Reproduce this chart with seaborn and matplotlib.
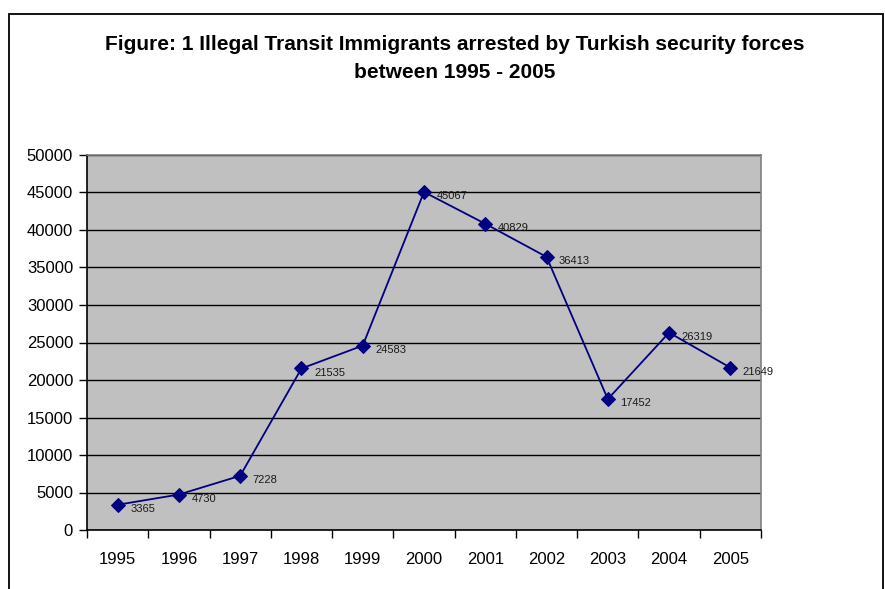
import pandas as pd
import seaborn as sns
from matplotlib import pyplot as plt
from matplotlib.patches import Rectangle
from matplotlib.ticker import FixedLocator, NullFormatter

years = ["1995", "1996", "1997", "1998", "1999", "2000", "2001", "2002", "2003", "2004", "2005"]
arrested = [3365, 4730, 7228, 21535, 24583, 45067, 40829, 36413, 17452, 26319, 21649]
y_ticks = [0, 5000, 10000, 15000, 20000, 25000, 30000, 35000, 40000, 45000, 50000]

W, H = 885, 589


def plot():
    df = pd.DataFrame({"Year": years, "Arrested": arrested})
    df["pos"] = range(len(df))

    sns.set_style("white")
    plt.rcParams["font.family"] = ["Liberation Sans", "DejaVu Sans"]
    plt.rcParams["text.color"] = "black"
    plt.rcParams["xtick.color"] = "black"
    plt.rcParams["ytick.color"] = "black"

    fig = plt.figure(figsize=(W / 100, H / 100), dpi=100)
    fig.add_artist(Rectangle((9 / W, -0.05), (883 - 9) / W, (H - 14) / H + 0.05,
                             transform=fig.transFigure, fill=False, lw=1.3, ec="black"))

    ax = fig.add_axes([87 / W, (H - 530) / H, 674 / W, 375 / H])
    ax.set_facecolor("#c0c0c0")

    sns.lineplot(data=df, x="pos", y="Arrested", color="#000080", lw=1.3,
                 marker="D", markersize=7, markeredgecolor="#000080", ax=ax, zorder=3)

    for _, row in df.iterrows():
        ax.annotate(str(row["Arrested"]), (row["pos"], row["Arrested"]), xytext=(9, -3),
                    textcoords="offset points", fontsize=8, va="center", ha="left",
                    color="#1a1a1a", annotation_clip=False, zorder=4)

    ax.set_xlim(-0.5, len(years) - 0.5)
    ax.set_ylim(0, 50000)
    ax.set_yticks(y_ticks)
    ax.set_yticklabels([str(v) for v in y_ticks], fontsize=12)
    ax.set_xticks(df["pos"])
    ax.set_xticklabels(years, fontsize=12)
    ax.xaxis.set_minor_locator(FixedLocator([i - 0.5 for i in range(len(years) + 1)]))
    ax.xaxis.set_minor_formatter(NullFormatter())
    ax.tick_params(axis="x", which="major", length=0, pad=16)
    ax.tick_params(axis="x", which="minor", length=6, width=1, color="black", direction="out", bottom=True)
    ax.tick_params(axis="y", length=6, width=1, color="black", direction="out", left=True, pad=4)
    ax.set_xlabel("")
    ax.set_ylabel("")

    ax.grid(axis="y", color="black", lw=1)
    ax.set_axisbelow(True)
    for side in ["top", "right"]:
        ax.spines[side].set_color("#808080")
        ax.spines[side].set_linewidth(1.2)
    for side in ["left", "bottom"]:
        ax.spines[side].set_color("black")
        ax.spines[side].set_linewidth(1.2)

    fig.text(455 / W, 1 - 45 / H, "Figure: 1 Illegal Transit Immigrants arrested by Turkish security forces",
             ha="center", va="center", fontsize=15, fontweight="bold", color="black")
    fig.text(455 / W, 1 - 72 / H, "between 1995 - 2005",
             ha="center", va="center", fontsize=15, fontweight="bold", color="black")

    fig.savefig("out.png", dpi=100)
    plt.close(fig)


def main():
    plot()


if __name__ == '__main__':
    main()
